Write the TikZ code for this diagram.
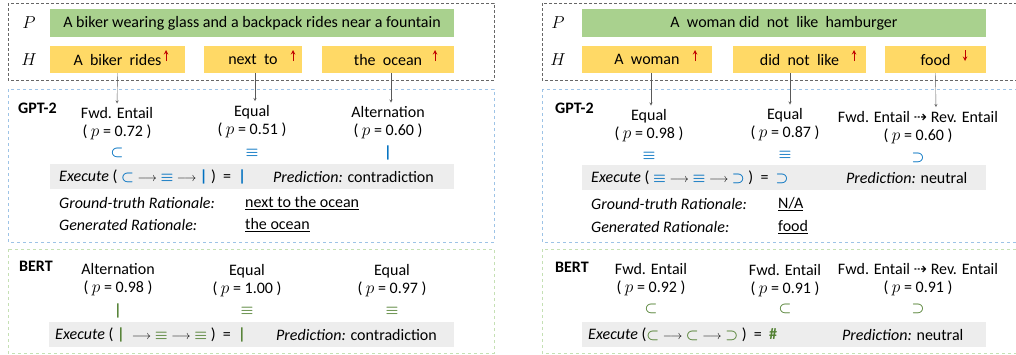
\documentclass[tikz,border=0pt]{standalone}
\usepackage{fontspec}
\setmainfont{Carlito}
\newfontfamily\symfont{DejaVu Sans}
\usepackage{tikz}
\usetikzlibrary{arrows}

\definecolor{premgreen}{HTML}{A9D18E}
\definecolor{hypyellow}{HTML}{FFD966}
\definecolor{bargray}{HTML}{EDEDED}
\definecolor{gptblue}{HTML}{0070C0}
\definecolor{bertgreen}{HTML}{548235}
\definecolor{gptframe}{HTML}{9DC3E6}
\definecolor{bertframe}{HTML}{C5E0B4}
\definecolor{markred}{HTML}{C00000}

\newcommand{\rsub}{{\fontsize{14}{14}\selectfont\boldmath$\subset$}}
\newcommand{\rsup}{{\fontsize{14}{14}\selectfont\boldmath$\supset$}}
\newcommand{\req}{{\fontsize{14}{14}\selectfont\boldmath$\equiv$}}
\newcommand{\ralt}{{\bfseries |}}
\newcommand{\lra}{{\fontsize{12}{14}\selectfont$\longrightarrow$}}
\newcommand{\dra}{{\symfont ⇢}}
\newcommand{\pval}[1]{( $p$ = #1 )}

\tikzstyle{premise} = [rectangle, minimum width=404pt, minimum height=28pt, fill=premgreen, text centered]
\tikzstyle{hypo} = [rectangle, minimum height=27pt, fill=hypyellow, text centered]
\tikzstyle{relation} = [align=center, inner sep=1pt]
\tikzstyle{symb} = [inner sep=1pt]
\tikzstyle{execbar} = [rectangle, minimum width=404pt, minimum height=25pt, fill=bargray]
\tikzstyle{plain} = [anchor=west, inner sep=0pt]
\tikzstyle{model} = [anchor=west, inner sep=0pt, font=\fontsize{16}{18}\selectfont\bfseries]
\tikzstyle{hp} = [font=\fontsize{17}{18}\selectfont]
\tikzstyle{arrow} = [->, >=stealth, draw=black!65, shorten >=3pt]
\tikzstyle{monoup} = [->, >=stealth, draw=markred, line width=1pt]
\tikzstyle{topframe} = [draw=black!60, densely dashed]
\tikzstyle{gptbox} = [draw=gptframe, dashed]
\tikzstyle{bertbox} = [draw=bertframe, dashed]

\begin{document}
\begin{tikzpicture}[x=1pt, y=-1pt, every node/.style={font=\fontsize{16}{18}\selectfont}]
  \useasboundingbox (0,0) rectangle (1016,354);

  % left example
  \draw [topframe] (8,3) rectangle (494,80);
  \draw [gptbox] (8,89) rectangle (494,242);
  \draw [bertbox] (8,249) rectangle (494,353);

  \node (lpl) [hp] at (29,23) {$P$};
  \node (lhl) [hp] at (29,60) {$H$};
  \node (lp) [premise] at (252,23) {A biker wearing glass and a backpack rides near a fountain};
  \node (lh1) [hypo, minimum width=135pt] at (117.5,59.5) {A\ \ biker\ \ rides};
  \node (lh2) [hypo, minimum width=98pt] at (253,59.5) {next\ \ to};
  \node (lh3) [hypo, minimum width=132pt] at (388,59.5) {the\ \ ocean};
  \draw [monoup] (166,61) -- (166,50);
  \draw [monoup] (293,61) -- (293,50);
  \draw [monoup] (435,61) -- (435,50);

  \node (lgm) [model] at (18,108) {GPT-2};
  \node (lg1) [relation] at (117,124) {Fwd. Entail\\\pval{0.72}};
  \node (lg2) [relation] at (252,121.5) {Equal\\\pval{0.51}};
  \node (lg3) [relation] at (388,123) {Alternation\\\pval{0.60}};
  \node (lgs1) [symb, text=gptblue] at (117,153) {\rsub};
  \node (lgs2) [symb, text=gptblue] at (252,153) {\req};
  \node (lgs3) [symb, text=gptblue] at (388,153) {\ralt};
  \draw [arrow] (lh1.south) -- (lg1.north);
  \draw [arrow] ([xshift=2pt]lh2.south) -- ([xshift=3pt]lg2.north);
  \draw [arrow] ([xshift=3pt]lh3.south) -- ([xshift=3pt]lg3.north);
  \node (lgbar) [execbar] at (252,176.5) {};
  \node (lgx) [plain] at (59,177) {\textit{Execute} ( {\color{gptblue}\rsub} \lra\ {\color{gptblue}\req} \lra\ {\color{gptblue}\ralt} )\ \ =\ \ {\color{gptblue}\ralt}};
  \node (lgp) [plain] at (273,177) {\textit{Prediction:} contradiction};
  \node (lgt) [plain] at (59,203) {\textit{Ground-truth Rationale:}};
  \node (lgtv) [plain] at (245,203) {\underline{next to the ocean}};
  \node (lgg) [plain] at (59,225) {\textit{Generated Rationale:}};
  \node (lggv) [plain] at (245,225) {\underline{the ocean}};

  \node (lbm) [model] at (19,266) {BERT};
  \node (lb1) [relation] at (118,279.5) {Alternation\\\pval{0.98}};
  \node (lb2) [relation] at (247,281) {Equal\\\pval{1.00}};
  \node (lb3) [relation] at (392,281) {Equal\\\pval{0.97}};
  \node (lbs1) [symb, text=bertgreen] at (118,311) {\ralt};
  \node (lbs2) [symb, text=bertgreen] at (247,311) {\req};
  \node (lbs3) [symb, text=bertgreen] at (392,311) {\req};
  \node (lbbar) [execbar, minimum width=405pt] at (251.5,334.5) {};
  \node (lbx) [plain] at (55,335) {\textit{Execute} ( {\color{bertgreen}\ralt} \ \lra\ {\color{bertgreen}\req} \lra\ {\color{bertgreen}\req} )\ \ =\ \ {\color{bertgreen}\ralt}};
  \node (lbp) [plain] at (276,335) {\textit{Prediction:} contradiction};

  % right example
  \draw [topframe] (542,3) rectangle (1020,80);
  \draw [gptbox] (542,89) rectangle (1020,242);
  \draw [bertbox] (542,249) rectangle (1020,353);

  \node (rpl) [hp] at (558,23) {$P$};
  \node (rhl) [hp] at (558,60) {$H$};
  \node (rp) [premise] at (784,23) {A\ \ woman\ did\ \ not\ \ like\ \ hamburger};
  \node (rh1) [hypo, minimum width=130pt] at (647,59.5) {A\ \ woman};
  \node (rh2) [hypo, minimum width=133pt] at (799.5,59.5) {did\ \ not\ \ like};
  \node (rh3) [hypo, minimum width=101pt] at (935.5,59.5) {food};
  \draw [monoup] (695,61) -- (695,50);
  \draw [monoup] (854,61) -- (854,50);
  \draw [monoup] (965,50) -- (965,61);

  \node (rgm) [model] at (555,108) {GPT-2};
  \node (rg1) [relation] at (649,126) {Equal\\\pval{0.98}};
  \node (rg2) [relation] at (785,125) {Equal\\\pval{0.87}};
  \node (rg3) [relation] at (918,127.5) {Fwd. Entail \dra\ Rev. Entail\\\pval{0.60}};
  \node (rgs1) [symb, text=gptblue] at (649,156) {\req};
  \node (rgs2) [symb, text=gptblue] at (785,155) {\req};
  \node (rgs3) [symb, text=gptblue] at (918,158) {\rsup};
  \draw [arrow] ([xshift=4pt]rh1.south) -- ([xshift=2pt]rg1.north);
  \draw [arrow] ([xshift=-9.5pt]rh2.south) -- ([xshift=5pt]rg2.north);
  \draw [arrow] (rh3.south) -- ([xshift=18pt]rg3.north);
  \node (rgbar) [execbar] at (784,177.5) {};
  \node (rgx) [plain] at (591,178) {\textit{Execute} ( {\color{gptblue}\req} \lra\ {\color{gptblue}\req} \lra\ {\color{gptblue}\rsup} )\ \ =\ \ {\color{gptblue}\rsup}};
  \node (rgp) [plain] at (846,178) {\textit{Prediction:} neutral};
  \node (rgt) [plain] at (591,204) {\textit{Ground-truth Rationale:}};
  \node (rgtv) [plain] at (778,204) {\underline{N/A}};
  \node (rgg) [plain] at (591,227) {\textit{Generated Rationale:}};
  \node (rggv) [plain] at (778,227) {\underline{food}};

  \node (rbm) [model] at (555,267) {BERT};
  \node (rb1) [relation] at (651,280) {Fwd. Entail\\\pval{0.92}};
  \node (rb2) [relation] at (785,281) {Fwd. Entail\\\pval{0.91}};
  \node (rb3) [relation] at (918,280) {Fwd. Entail \dra\ Rev. Entail\\\pval{0.91}};
  \node (rbs1) [symb, text=bertgreen] at (651,309) {\rsub};
  \node (rbs2) [symb, text=bertgreen] at (785,309) {\rsub};
  \node (rbs3) [symb, text=bertgreen] at (918,309) {\rsup};
  \node (rbbar) [execbar] at (784,334.5) {};
  \node (rbx) [plain] at (588,335) {\textit{Execute} ({\color{bertgreen}\rsub} \lra\ {\color{bertgreen}\rsub} \lra\ {\color{bertgreen}\rsup} )\ \ =\ \ {\color{bertgreen}\textbf{\#}}};
  \node (rbp) [plain] at (842,335) {\textit{Prediction:} neutral};

\end{tikzpicture}
\end{document}
